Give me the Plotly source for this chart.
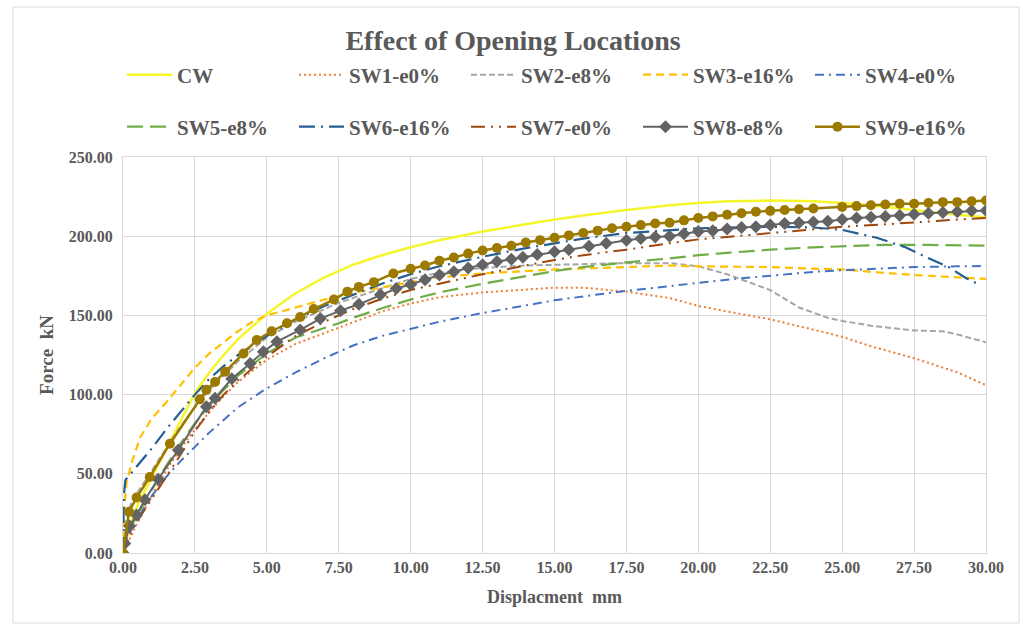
import plotly.graph_objects as go

# Load-displacement curves (displacement in mm, force in kN)
cw_x = [0, 0.25, 0.5, 1, 1.5, 2, 2.5, 3, 3.5, 4, 5, 6, 7, 7.5, 8, 9, 10, 11, 12.5, 14, 15, 16,
        17.5, 19, 20, 21, 22.5, 24, 25, 26, 27.5, 29, 30]
cw_y = [0, 18, 30, 48, 66, 84, 101, 114, 125, 135, 151, 164, 174, 178, 182, 188, 193, 197.5, 203,
        207.5, 210.5, 213, 216.5, 219.5, 221, 222, 222.5, 222, 221, 219.5, 216.5, 213.5, 212]

sw1_x = [0, 0.25, 0.5, 1, 1.5, 2, 2.5, 3, 3.5, 4, 5, 6, 7, 7.5, 8, 9, 10, 11, 12.5, 14, 15, 16,
         17, 17.5, 19, 20, 21, 22.5, 24, 25, 26, 27.5, 29, 30]
sw1_y = [0, 10, 19, 36, 52, 66, 78, 89, 99, 108, 122, 132, 139, 142, 146, 152.5, 157.5, 161.5,
         164.5, 166.5, 167.5, 167.5, 166, 165, 161, 156, 152.5, 147.5, 141, 136.5, 130.5, 123,
         114, 106]

sw2_x = [0, 0.1, 0.25, 0.5, 1, 1.5, 2, 2.5, 3, 3.5, 4, 5, 6, 7, 7.5, 8, 9, 10, 11, 12.5, 14, 15,
         17.5, 19, 20, 21, 22.5, 23.5, 24.5, 25, 26, 27.5, 28.5, 29, 30]
sw2_y = [0, 20, 30, 38, 52, 66, 80, 92, 103, 112, 121, 136, 146, 154, 158, 161, 167, 173, 177,
         180, 181.5, 182, 183, 183, 181, 176, 166, 155, 148.5, 146.5, 143.5, 140.5, 140, 138, 133]

sw3_x = [0, 0.05, 0.12, 0.3, 0.6, 1, 1.5, 2, 2.5, 3, 3.5, 4, 4.5, 5, 6, 7, 7.5, 8.5, 10, 11, 12.5,
         14, 15, 17.5, 19, 20, 22.5, 24, 25, 26, 27.5, 29, 30]
sw3_y = [0, 30, 44, 57, 73, 85, 95, 106, 117, 126, 133, 140, 146, 150, 155, 160, 162, 166, 171,
         174, 176.5, 178, 179, 180.5, 181.5, 181, 180.5, 179.5, 179, 177.5, 175.5, 174, 173]

sw4_x = [0, 0.1, 0.5, 1, 1.5, 2, 2.5, 3, 3.5, 4, 5, 6, 7, 7.5, 8, 9, 10, 11, 12.5, 14, 15, 16,
         17.5, 19, 20, 21.5, 22.5, 24, 25, 26.5, 27.5, 29, 30]
sw4_y = [0, 8, 22, 36, 48, 58, 67, 76, 84, 92, 104, 114, 123, 127, 131, 137, 141.5, 146, 151.5,
         156.5, 159.5, 162, 165.5, 168.5, 170.5, 173.5, 175, 177.5, 178.5, 179.8, 180.5, 181, 181.2]

sw5_x = [0, 0.1, 0.5, 1, 1.5, 2, 2.5, 3, 3.5, 4, 5, 6, 7, 7.5, 8, 9, 10, 11, 12.5, 14, 15, 16,
         17.5, 19, 20, 21, 22.5, 24, 25, 26.5, 28, 30]
sw5_y = [0, 10, 24, 40, 55, 69, 82, 93, 103, 112, 126, 136, 142, 145, 148.5, 154.5, 160, 164.5,
         170, 175, 178, 180.5, 183.5, 186, 188, 189.5, 191.5, 193, 193.5, 194.5, 194.5, 194]

sw6_x = [0, 0.03, 0.08, 0.5, 1, 1.5, 2, 2.5, 3, 3.5, 4, 5, 6, 7, 7.5, 8, 9, 10, 11, 12.5, 14, 15,
         16, 17.5, 19, 20, 21, 22.5, 24, 25, 26.2, 27.2, 27.9, 28.7, 29.3, 29.7]
sw6_y = [0, 36, 46, 55, 66, 78, 89, 100, 110, 118, 125, 137, 147.5, 156, 159.5, 163, 170, 176,
         181, 187, 192.5, 195.5, 198.5, 202, 204, 205, 205.5, 206, 205.5, 204, 199, 193, 187,
         180.5, 173.6, 170]

sw7_x = [0, 0.1, 0.3, 0.6, 1, 1.5, 2, 2.5, 3, 3.5, 4, 5, 6, 7, 7.5, 8, 9, 10, 11, 12.5, 14, 15,
         16, 17.5, 19, 20, 21, 22.5, 24, 25, 26.5, 28, 29, 30]
sw7_y = [0, 5, 14, 23, 34, 48, 62, 77, 89, 100, 109, 124, 137, 146, 150, 154, 160.5, 166, 170,
         176, 181.5, 185, 188, 191.5, 195.5, 198, 199.5, 202, 204.5, 206, 207.5, 209.5, 210.5,
         211.5]

sw8_x = [0, 0.06, 0.23, 0.47, 0.76, 1.22, 1.92, 2.9, 3.2, 3.78, 4.42, 4.88, 5.35, 6.16, 6.86,
         7.56, 8.2, 8.95, 9.5, 10, 10.5, 11, 11.5, 12, 12.5, 13, 13.5, 13.9, 14.4, 15, 15.5, 16.2,
         16.8, 17.5, 18, 18.5, 19, 19.5, 20, 20.5, 21, 21.5, 22, 22.5, 23, 23.5, 24, 24.5, 25,
         25.5, 26, 26.5, 27, 27.5, 28, 28.5, 29, 29.5, 30]
sw8_y = [0, 6, 17, 24, 33.6, 46.6, 65, 92.4, 97.7, 110, 119.7, 127, 133.4, 140.8, 148, 153, 157,
         163, 167, 169.5, 172.5, 175.5, 177.5, 180, 182, 184, 185.5, 186.7, 188.5, 190.2, 191.5,
         193.7, 195.5, 197.5, 198.5, 199.5, 200, 201.5, 203, 203.5, 204.5, 205.5, 206, 207, 208,
         208.5, 209, 209.5, 210.5, 211.5, 212, 212.5, 213, 213.8, 214.5, 215, 215.5, 216, 216.3]

sw9_x = [0, 0.21, 0.47, 0.93, 1.63, 2.67, 2.9, 3.2, 3.55, 4.19, 4.65, 5.17, 5.7, 6.16, 6.63, 7.33,
         7.8, 8.2, 8.72, 9.4, 10, 10.5, 11, 11.5, 12, 12.5, 13, 13.5, 14, 14.5, 15, 15.5, 16, 16.5,
         17, 17.5, 18, 18.5, 19, 19.5, 20, 20.5, 21, 21.5, 22, 22.5, 23, 23.5, 24, 25, 25.5, 26,
         26.5, 27, 27.5, 28, 28.5, 29, 29.5, 30]
sw9_y = [0, 26, 35, 48, 69, 97, 103, 108, 114.5, 126, 134.5, 140, 145, 149, 154, 160, 165, 168,
         171, 176.5, 179.5, 181.5, 184.5, 186.5, 189, 191, 192.5, 194, 196, 197.5, 199, 200.5,
         202, 203.5, 205, 206, 207, 208, 208.5, 210, 211.5, 212.5, 213.5, 214.5, 215.5, 216,
         216.5, 217, 217.5, 218.5, 219, 219.5, 220, 220.5, 220.5, 221, 221.5, 221.5, 222, 222.5]

names = ["CW", "SW1-e0%", "SW2-e8%", "SW3-e16%", "SW4-e0%",
         "SW5-e8%", "SW6-e16%", "SW7-e0%", "SW8-e8%", "SW9-e16%"]

TEXT = "#595959"
GRID = "#d9d9d9"
SERIF = "Liberation Serif"

fig = go.Figure()

line_specs = [
    (cw_x, cw_y, dict(color="#f5f52c", width=2.5), "legend"),
    (sw1_x, sw1_y, dict(color="#ed7d31", width=2, dash="2px,3px"), "legend"),
    (sw2_x, sw2_y, dict(color="#a5a5a5", width=2, dash="6px,3px"), "legend"),
    (sw3_x, sw3_y, dict(color="#ffc000", width=2.2, dash="8px,5px"), "legend"),
    (sw4_x, sw4_y, dict(color="#4472c4", width=2, dash="9px,5px,2px,5px"), "legend"),
    (sw5_x, sw5_y, dict(color="#70ad47", width=2.2, dash="16px,7px"), "legend2"),
    (sw6_x, sw6_y, dict(color="#255e91", width=2.2, dash="16px,6px,2px,6px"), "legend2"),
    (sw7_x, sw7_y, dict(color="#9e480e", width=2, dash="14px,6px,2px,6px,2px,6px"), "legend2"),
]
for (xs, ys, ln, lg), nm in zip(line_specs, names[:8]):
    fig.add_trace(go.Scatter(x=xs, y=ys, name=nm, mode="lines", line=ln, legend=lg))

fig.add_trace(go.Scatter(
    x=sw8_x, y=sw8_y, name=names[8], mode="lines+markers", legend="legend2",
    line=dict(color="#636363", width=2),
    marker=dict(symbol="diamond", size=10, color="#636363")))
fig.add_trace(go.Scatter(
    x=sw9_x, y=sw9_y, name=names[9], mode="lines+markers", legend="legend2",
    line=dict(color="#9c7a00", width=2.5),
    marker=dict(symbol="circle", size=10, color="#9c7a00")))

legend_common = dict(
    orientation="h", xref="container", yref="container", yanchor="middle",
    xanchor="left", entrywidth=112, itemwidth=45, bgcolor="rgba(0,0,0,0)",
    font=dict(family=SERIF, size=21, color=TEXT, weight="bold"), tracegroupgap=0,
)

fig.update_layout(
    width=1026, height=630,
    paper_bgcolor="white", plot_bgcolor="white",
    margin=dict(l=123, r=40, t=157, b=77, autoexpand=False),
    title=dict(text="Effect of Opening Locations", x=0.5, xanchor="center",
               y=1 - 40 / 630, yanchor="middle", yref="container",
               font=dict(family=SERIF, size=28, color=TEXT, weight="bold")),
    legend=dict(x=122 / 1026, y=1 - 75 / 630, **legend_common),
    legend2=dict(x=122 / 1026, y=1 - 127 / 630, **legend_common),
    xaxis=dict(range=[0, 30], dtick=2.5, tick0=0, tickformat=".2f",
               showgrid=True, gridcolor=GRID, gridwidth=1, zeroline=False,
               showline=True, mirror=True, linecolor=GRID, linewidth=1,
               ticks="", tickfont=dict(family=SERIF, size=16, color=TEXT, weight="bold"),
               title=dict(text="Displacment  mm", standoff=15,
                          font=dict(family=SERIF, size=18, color=TEXT, weight="bold"))),
    yaxis=dict(range=[0, 250], dtick=50, tick0=0, tickformat=".2f",
               showgrid=True, gridcolor=GRID, gridwidth=1, zeroline=False,
               showline=True, mirror=True, linecolor=GRID, linewidth=1,
               ticks="", ticklabelstandoff=6,
               tickfont=dict(family=SERIF, size=16, color=TEXT, weight="bold"),
               title=dict(text="Force  kN", standoff=10,
                          font=dict(family=SERIF, size=19, color=TEXT, weight="bold"))),
    shapes=[dict(type="rect", xref="paper", yref="paper",
                 x0=(13 - 123) / 863, x1=(1019 - 123) / 863,
                 y0=(553 - 623) / 396, y1=(553 - 7) / 396,
                 line=dict(color=GRID, width=1), fillcolor="rgba(0,0,0,0)", layer="below")],
)

fig.write_html("out.html")
